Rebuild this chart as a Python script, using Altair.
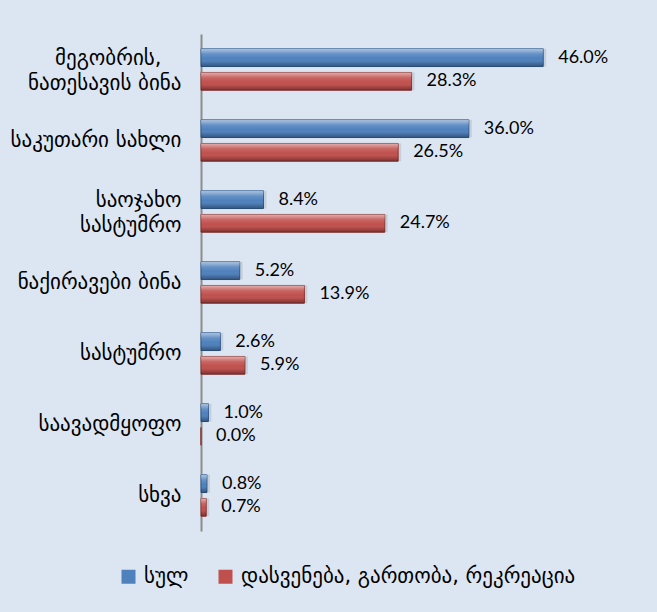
import altair as alt
import pandas as pd

NB = "\u00a0"
ZW = "\u200b"
categories = [
    "მეგობრის," + NB * 3 + ZW + "\nნათესავის ბინა",
    "საკუთარი სახლი",
    "საოჯახო\nსასტუმრო",
    "ნაქირავები ბინა",
    "სასტუმრო",
    "საავადმყოფო",
    "სხვა",
]
series_names = ["სულ", "დასვენება, გართობა, რეკრეაცია"]
total = [46.0, 36.0, 8.4, 5.2, 2.6, 1.0, 0.8]
leisure = [28.3, 26.5, 24.7, 13.9, 5.9, 0.0, 0.7]
colors = ["#4f81bd", "#c0504d"]
strokes = ["#2f5b8c", "#8a3432"]

rows = []
for c, t, l in zip(categories, total, leisure):
    rows.append({"cat": c, "series": series_names[0], "value": t})
    rows.append({"cat": c, "series": series_names[1], "value": l})
df = pd.DataFrame(rows)

y_enc = alt.Y("cat:N", sort=categories,
              scale=alt.Scale(paddingInner=0.35, paddingOuter=0.175),
              axis=alt.Axis(title=None, ticks=False, grid=False, domainColor="#8c8c8c",
                            domainWidth=2, labelFont="DejaVu Sans", labelFontSize=21,
                            labelColor="#000000", labelPadding=20, labelLineHeight=25,
                            labelOffset={"condition": {"test": "indexof(datum.value, '\\n') >= 0",
                                                       "value": -11}, "value": 0},
                            labelExpr="split(datum.label, '\\n')", labelLimit=300))
yoff = alt.YOffset("series:N", sort=series_names,
                   scale=alt.Scale(domain=series_names, paddingInner=0.25, paddingOuter=0.1))
x_enc = alt.X("value:Q", scale=alt.Scale(domain=[0, 50]), axis=None)

base = alt.Chart(df)

shadow = base.mark_bar(color="#000000", opacity=0.1, xOffset=3, yOffset=3).encode(
    x=x_enc, y=y_enc, yOffset=yoff)

bars = base.mark_bar(strokeWidth=1).encode(
    x=x_enc, y=y_enc, yOffset=yoff,
    color=alt.Color("series:N", sort=series_names,
                    scale=alt.Scale(domain=series_names, range=colors),
                    legend=alt.Legend(orient="none", legendX=-83, legendY=532,
                                      direction="horizontal", title=None,
                                      symbolType="square", symbolSize=196,
                                      symbolStrokeWidth=0, labelFont="DejaVu Sans",
                                      labelFontSize=21, labelColor="#000000",
                                      columnPadding=26, labelOffset=5, labelLimit=600)),
    stroke=alt.Stroke("series:N", sort=series_names,
                      scale=alt.Scale(domain=series_names, range=strokes), legend=None),
)

gloss = base.mark_bar(
    color=alt.Gradient(
        gradient="linear", x1=0, y1=0, x2=0, y2=1,
        stops=[
            alt.GradientStop(color="rgba(255,255,255,0.55)", offset=0),
            alt.GradientStop(color="rgba(255,255,255,0.12)", offset=0.3),
            alt.GradientStop(color="rgba(255,255,255,0)", offset=0.55),
            alt.GradientStop(color="rgba(0,0,0,0.12)", offset=0.8),
            alt.GradientStop(color="rgba(0,0,0,0.35)", offset=1),
        ],
    )
).encode(x=x_enc, y=y_enc, yOffset=yoff)

labels = base.transform_calculate(
    lab="format(datum.value, '.1f') + '%'"
).mark_text(align="left", baseline="middle", dx=15, font="Lato", fontSize=18,
            color="#000000").encode(
    x=x_enc, y=y_enc, yOffset=yoff, text="lab:N")

chart = alt.layer(shadow, bars, gloss, labels).properties(
    width=372, height=497,
    padding={"left": 201, "top": 34, "right": 84, "bottom": 81},
    autosize=alt.AutoSizeParams(type="none"),
    background="#dce6f2",
).configure_view(stroke=None)

chart.save("out.html", embed_options={"renderer": "svg", "actions": False})
